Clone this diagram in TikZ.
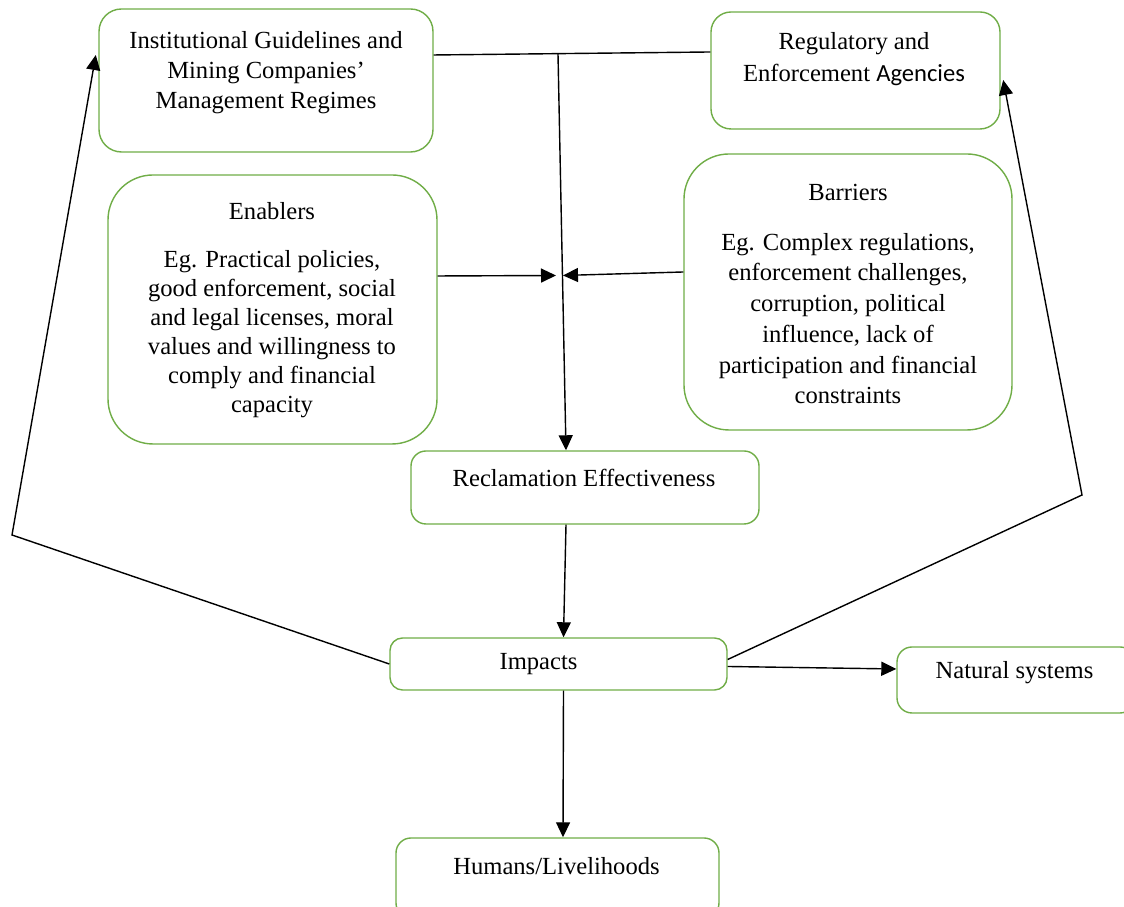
\documentclass[tikz,border=0pt]{standalone}
\usepackage{fontspec}
\setmainfont{Liberation Serif}
\newfontfamily\agfont{Carlito}
\usepackage{xcolor}
\usetikzlibrary{shapes,arrows.meta,positioning,calc}
\definecolor{boxgreen}{HTML}{70AD47}

\begin{document}
\begin{tikzpicture}[
  box/.style={rectangle, draw=boxgreen, line width=0.8pt, fill=white},
  txt/.style={align=center, font=\fontsize{14}{17}\selectfont},
  link/.style={line width=0.8pt},
  >={Triangle[length=3mm,width=2.8mm]}]
\useasboundingbox (0,0) rectangle (22.48,18.14);

% boxes
\node[box, rounded corners=0.45cm, minimum width=6.68cm, minimum height=2.86cm] (inst) at (5.32,16.53) {};
\node[box, rounded corners=0.4cm, minimum width=5.78cm, minimum height=2.34cm] (reg) at (17.11,16.73) {};
\node[box, rounded corners=0.9cm, minimum width=6.58cm, minimum height=5.38cm] (enab) at (5.45,11.95) {};
\node[box, rounded corners=0.9cm, minimum width=6.56cm, minimum height=5.52cm] (barr) at (16.96,12.30) {};
\node[box, rounded corners=0.3cm, minimum width=6.96cm, minimum height=1.46cm] (recl) at (11.70,8.39) {};
\node[box, rounded corners=0.25cm, minimum width=6.74cm, minimum height=1.04cm] (imp) at (11.17,4.86) {};
\node[box, rounded corners=0.3cm, minimum width=4.76cm, minimum height=1.32cm] (nat) at (20.32,4.54) {};
\node[box, rounded corners=0.3cm, minimum width=6.46cm, minimum height=1.6cm] (hum) at (11.15,0.58) {};

% texts
\node[txt] (instT) at (5.32,16.68) {Institutional Guidelines and\\Mining Companies’\\Management Regimes};
\node[txt, font=\fontsize{14}{18}\selectfont] (regT) at (17.08,16.96) {Regulatory and\\Enforcement {\agfont Agencies}};
\node[txt, font=\fontsize{14}{16.5}\selectfont] (enabT) at (5.44,11.94) {Enablers\\[11pt]Eg. Practical policies,\\good enforcement, social\\and legal licenses, moral\\values and willingness to\\comply and financial\\capacity};
\node[txt, font=\fontsize{14}{17.5}\selectfont] (barrT) at (16.96,12.26) {Barriers\\[11pt]Eg. Complex regulations,\\enforcement challenges,\\corruption, political\\influence, lack of\\participation and financial\\constraints};
\node[txt] (reclT) at (11.68,8.58) {Reclamation Effectiveness};
\node[txt] (impT) at (10.77,4.86) {Impacts};
\node[txt] (natT) at (20.29,4.68) {Natural systems};
\node[txt] (humT) at (11.13,0.82) {Humans/Livelihoods};

\coordinate (join) at (11.16,17.06);
\coordinate (mid) at (11.20,12.63);
\coordinate (cornL) at (0.24,7.44);
\coordinate (cornR) at (21.64,8.24);

\draw[link] ([yshift=5.1mm]inst.east) -- ([yshift=3.7mm]reg.west);
\draw[link,->] (join) -- ([xshift=-3.8mm]recl.north);
\draw[link,->] ([yshift=6.7mm]enab.east) -- ([xshift=-0.8mm]mid);
\draw[link,->] ([yshift=4mm]barr.west) -- ([xshift=0.6mm]mid);
\draw[link,->] ([xshift=-3.8mm]recl.south) -- ([xshift=1mm]imp.north);
\draw[link,->] ([xshift=1mm]imp.south) -- ([xshift=1.1mm]hum.north);
\draw[link,->] ([yshift=-0.5mm]imp.east) -- ([yshift=2.2mm]nat.west);
\draw[link,->] ([yshift=0.9mm]imp.east) -- (cornR) -- ([yshift=-1.9mm,xshift=0.5mm]reg.east);
\draw[link,->] (imp.west) -- (cornL) -- ([yshift=5.1mm,xshift=-0.5mm]inst.west);
\end{tikzpicture}
\end{document}
